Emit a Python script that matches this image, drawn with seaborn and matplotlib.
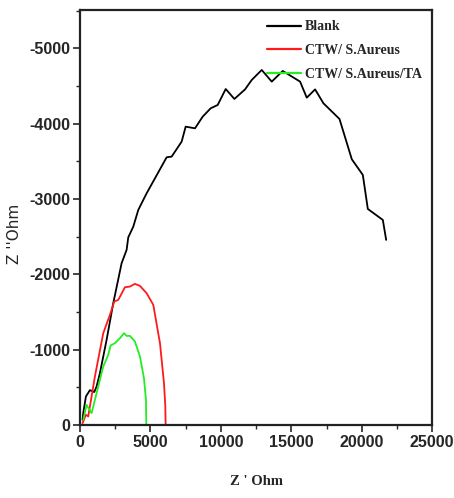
import numpy as np
import pandas as pd
import seaborn as sns
import matplotlib.pyplot as plt
from matplotlib.ticker import MultipleLocator

# Nyquist data (Z' , Z'' in Ohm)
blank_x = [190, 237, 426, 710, 1018, 1184, 1420, 1894, 2367, 2959, 3314, 3433, 3788,
           4143, 4735, 5327, 6155, 6510, 7220, 7505, 8168, 8712, 9280, 9777, 10346,
           10962, 11719, 12192, 12903, 13613, 14393, 15625, 16098, 16690, 17282,
           18420, 19294, 20076, 20431, 21496, 21733]
blank_y = [-66, -155, -376, -460, -435, -509, -686, -1128, -1615, -2146, -2323, -2490,
           -2632, -2854, -3075, -3274, -3553, -3562, -3761, -3960, -3938, -4093, -4204,
           -4248, -4460, -4328, -4455, -4580, -4713, -4558, -4700, -4558, -4345, -4455,
           -4270, -4062, -3527, -3319, -2867, -2721, -2456]

staph_x = [190, 426, 592, 829, 1065, 1657, 2131, 2438, 2722, 3196, 3551, 3906, 4261,
           4735, 5208, 5682, 5966, 6061, 6084]
staph_y = [-22, -133, -111, -376, -642, -1217, -1460, -1637, -1659, -1827, -1836,
           -1872, -1845, -1748, -1593, -1084, -553, -243, 0]

ta_x = [237, 473, 829, 1184, 1657, 2012, 2178, 2486, 2841, 3125, 3314, 3551, 3906,
        4261, 4545, 4688, 4711]
ta_y = [-66, -265, -155, -420, -774, -929, -1053, -1084, -1150, -1217, -1181, -1181,
        -1106, -907, -620, -332, 0]

labels = ['Blank', 'CTW/ S.Aureus', 'CTW/ S.Aureus/TA']

df = pd.concat([
    pd.DataFrame({'zre': blank_x, 'zim': blank_y, 'sample': labels[0]}),
    pd.DataFrame({'zre': staph_x, 'zim': staph_y, 'sample': labels[1]}),
    pd.DataFrame({'zre': ta_x, 'zim': ta_y, 'sample': labels[2]}),
], ignore_index=True)

sns.set_style('ticks')
plt.rcParams['axes.unicode_minus'] = False

fig = plt.figure(figsize=(4.54, 4.98), dpi=100)
ax = fig.add_axes([0.176, 0.147, 0.776, 0.833])

sns.lineplot(data=df, x='zre', y='zim', hue='sample', sort=False,
             palette=['black', '#ff1a1a', '#22ee22'], linewidth=1.3, ax=ax)

ax.set_xlim(0, 25000)
ax.set_ylim(0, -5510)

ax.xaxis.set_major_locator(MultipleLocator(5000))
ax.xaxis.set_minor_locator(MultipleLocator(2500))
ax.yaxis.set_major_locator(MultipleLocator(1000))
ax.yaxis.set_minor_locator(MultipleLocator(500))

for s in ax.spines.values():
    s.set_linewidth(1.6)
    s.set_color('#222222')

ax.tick_params(which='major', direction='out', length=5, width=1.2, pad=2)
ax.tick_params(which='minor', direction='out', length=3, width=1.0)
for lab in ax.get_xticklabels() + ax.get_yticklabels():
    lab.set_fontfamily('Liberation Sans')
    lab.set_fontweight('bold')
    lab.set_fontsize(11.5)

ax.set_xlabel("Z ' Ohm", fontfamily='Liberation Serif', fontweight='bold',
              fontsize=10.5, labelpad=18)
ax.set_ylabel("Z ''Ohm", fontfamily='DejaVu Sans', fontsize=11)
ax.yaxis.set_label_coords(-0.165, 0.46)

leg = ax.legend(loc='upper right', frameon=False, fontsize=10,
                handlelength=2.5, handletextpad=0.25, labelspacing=0.78,
                borderaxespad=0.35, bbox_to_anchor=(1.0, 1.0))
for t in leg.get_texts():
    t.set_fontfamily('Liberation Serif')
    t.set_fontweight('bold')
for h in leg.get_lines():
    h.set_linewidth(1.6)

fig.savefig('out.png', dpi=100)
